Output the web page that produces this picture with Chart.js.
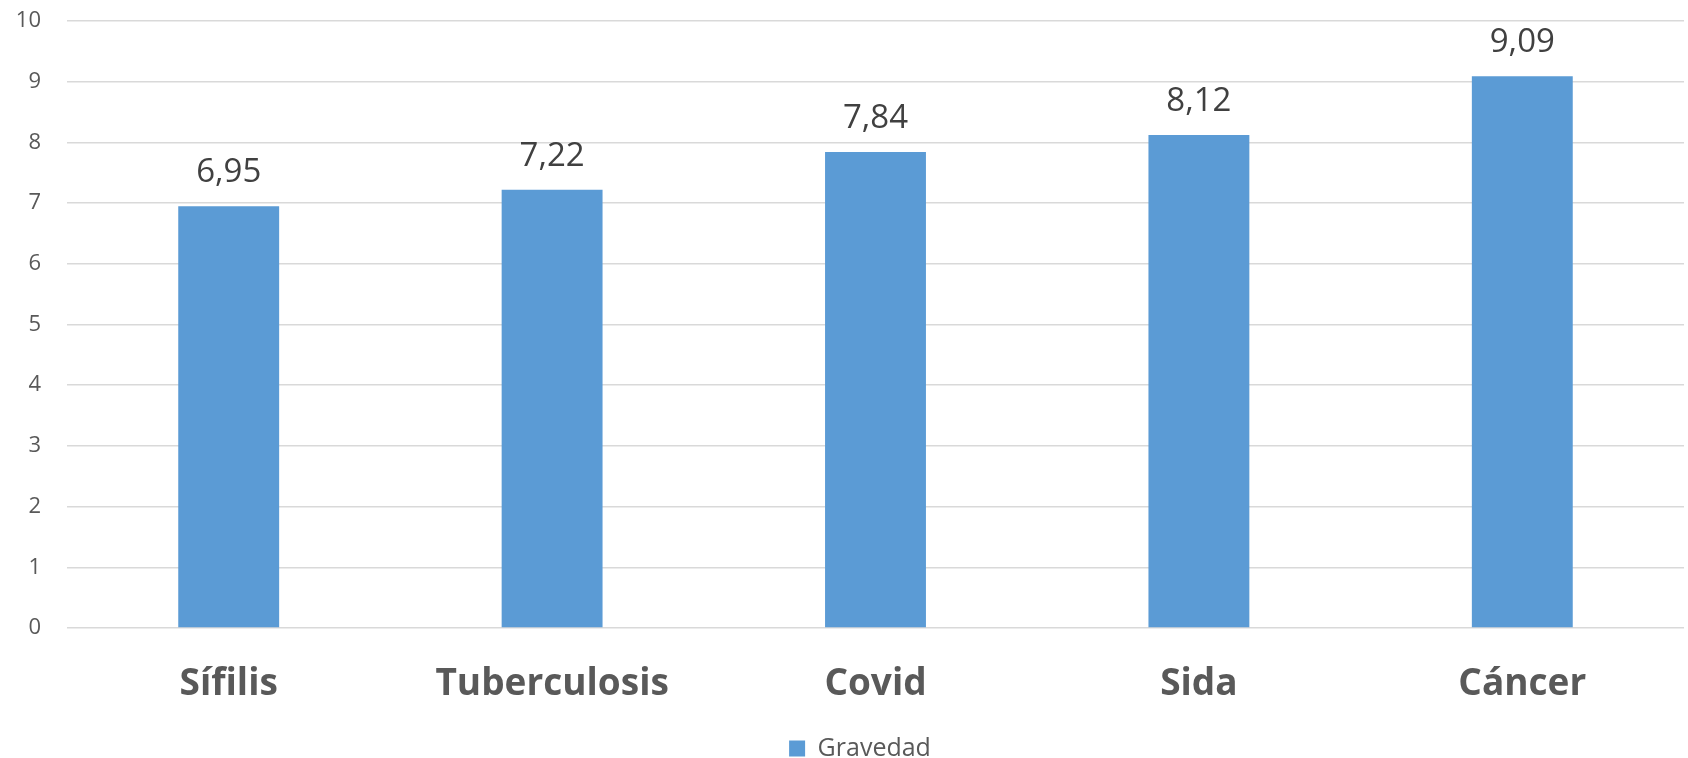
<!DOCTYPE html>
<html>
<head>
<meta charset="utf-8">
<script src="https://cdn.jsdelivr.net/npm/chart.js@4"></script>
<style>
html,body{margin:0;padding:0;background:#fff;}
#wrap{width:1688px;height:758px;position:relative;}
</style>
</head>
<body>
<div id="wrap"><canvas id="c" width="1688" height="758"></canvas></div>
<script>
const categories = ["Sífilis", "Tuberculosis", "Covid", "Sida", "Cáncer"];
const gravedad = [6.95, 7.22, 7.84, 8.12, 9.09];
const seriesName = "Gravedad";
const yTicks = [0, 1, 2, 3, 4, 5, 6, 7, 8, 9, 10];

const fmt = v => v.toFixed(2).replace('.', ',');

const dataLabels = {
  id: 'dataLabels',
  afterDatasetsDraw(chart) {
    const ctx = chart.ctx;
    const meta = chart.getDatasetMeta(0);
    ctx.save();
    ctx.font = '33px "Open Sans", sans-serif';
    ctx.fillStyle = '#404040';
    ctx.textAlign = 'center';
    ctx.textBaseline = 'alphabetic';
    meta.data.forEach((bar, i) => {
      ctx.fillText(fmt(chart.data.datasets[0].data[i]), bar.x, bar.y - 24);
    });
    ctx.restore();
  }
};

// nudge the legend slightly right, as in the reference
const legendShift = {
  id: 'legendShift',
  afterLayout(chart) {
    const lg = chart.legend;
    if (lg) { lg.left += 18; lg.right += 18; }
  }
};

new Chart(document.getElementById('c'), {
  type: 'bar',
  data: {
    labels: categories,
    datasets: [{
      label: seriesName,
      data: gravedad,
      backgroundColor: '#5B9BD5',
      borderWidth: 0,
      categoryPercentage: 1,
      barPercentage: 0.312
    }]
  },
  options: {
    responsive: false,
    animation: false,
    layout: { padding: { top: 21, right: 4, bottom: -13, left: 0 } },
    plugins: {
      tooltip: { enabled: false },
      legend: {
        position: 'bottom',
        labels: {
          font: { family: '"Open Sans", sans-serif', size: 25 },
          color: '#595959',
          boxWidth: 16,
          boxHeight: 16,
          padding: 2
        }
      }
    },
    scales: {
      x: {
        grid: { display: false, drawTicks: false },
        border: { display: false },
        ticks: {
          font: { family: '"Open Sans", sans-serif', size: 37, weight: 'bold' },
          color: '#595959',
          padding: 34
        },
        afterFit(s) { s.height = 106; }
      },
      y: {
        min: 0, max: 10,
        afterBuildTicks(s) { s.ticks = yTicks.map(v => ({ value: v })); },
        grid: { color: '#d9d9d9', lineWidth: 1.6, drawTicks: true, tickLength: 26, tickColor: 'rgba(0,0,0,0)' },
        border: { display: false },
        ticks: {
          font: { family: '"Open Sans", sans-serif', size: 22 },
          color: '#595959',
          padding: 0
        },
        afterFit(s) { s.width = 67; }
      }
    }
  },
  plugins: [dataLabels, legendShift]
});
</script>
</body>
</html>
